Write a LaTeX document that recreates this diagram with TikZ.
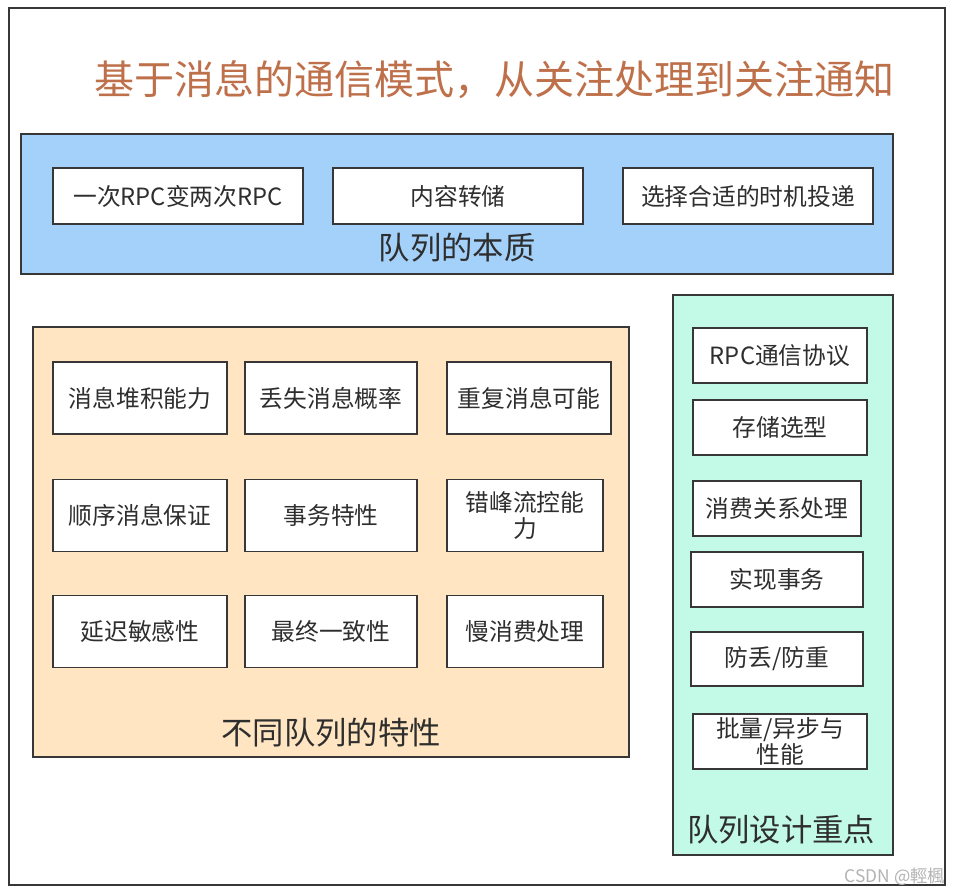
\documentclass[tikz,border=0pt]{standalone}
\usepackage{fontspec}
\setmainfont{Noto Sans CJK SC}
\usetikzlibrary{positioning}
\definecolor{titlebrown}{RGB}{190,112,74}
\definecolor{essenceblue}{RGB}{164,209,250}
\definecolor{traitorange}{RGB}{255,229,193}
\definecolor{designgreen}{RGB}{194,250,231}
\definecolor{linegray}{RGB}{55,55,55}
\tikzset{
x=0.75pt, y=-0.75pt, % one unit is one pixel of the sketch, y grows downwards
every node/.style={text=black!82, font=\fontsize{17.8}{19}\selectfont}, % text of the small boxes
box/.style={draw=linegray, line width=1.1pt, inner sep=2pt, align=center}, % every framed rectangle
item/.style={box, fill=white}, % the white boxes
group/.style={box, inner sep=0pt}, % the coloured areas
grouplabel/.style={font=\fontsize{23.5}{26}\selectfont}, % name of each coloured area
}

\begin{document}
\begin{tikzpicture}
        \useasboundingbox (0,0) rectangle (953,895);
        \node[group, minimum width=702pt, minimum height=657.75pt] (frame) at (477,446.5) {};
        \node[text=titlebrown, font=\fontsize{30}{32}\selectfont] (title) at (494,80) {基于消息的通信模式，从关注处理到关注通知};

        % the nature of a queue
        \node[group, fill=essenceblue, minimum width=654pt, minimum height=105pt] (essence) at (457,204) {};
        \node[item, minimum width=187.5pt, minimum height=42pt] (e1) at (178,196) {一次RPC变两次RPC};
        \node[item, minimum width=187.5pt, minimum height=42pt] (e2) at (458,196) {内容转储};
        \node[item, minimum width=187.5pt, minimum height=42pt] (e3) at (748,196) {选择合适的时机投递};
        \node[grouplabel] (essencename) at (457,248) {队列的本质};

        % traits of different queues
        \node[group, fill=traitorange, minimum width=447pt, minimum height=322.5pt] (traits) at (331,542) {};
        \node[item, minimum width=130.5pt, minimum height=54pt] (t1) at (140,398) {消息堆积能力};
        \node[item, minimum width=129pt, minimum height=54pt] (t2) at (331,398) {丢失消息概率};
        \node[item, minimum width=123pt, minimum height=54pt] (t3) at (529,398) {重复消息可能};
        \node[item, minimum width=130.5pt, minimum height=54pt] (t4) at (140,515.5) {顺序消息保证};
        \node[item, minimum width=129pt, minimum height=54pt] (t5) at (331,515.5) {事务特性};
        \node[item, minimum width=117pt, minimum height=54pt] (t6) at (525,515.5) {错峰流控能\\力};
        \node[item, minimum width=130.5pt, minimum height=54pt] (t7) at (140,631.5) {延迟敏感性};
        \node[item, minimum width=129pt, minimum height=54pt] (t8) at (331,631.5) {最终一致性};
        \node[item, minimum width=117pt, minimum height=54pt] (t9) at (525,631.5) {慢消费处理};
        \node[grouplabel] (traitsname) at (331,733) {不同队列的特性};

        % what to care about when building one
        \node[group, fill=designgreen, minimum width=165pt, minimum height=420pt] (design) at (783,575) {};
        \node[item, minimum width=130.5pt, minimum height=41.25pt] (d1) at (780,355.5) {RPC通信协议};
        \node[item, minimum width=130.5pt, minimum height=41.25pt] (d2) at (780,427.5) {存储选型};
        \node[item, minimum width=126pt, minimum height=41.25pt] (d3) at (777,508.5) {消费关系处理};
        \node[item, minimum width=129pt, minimum height=41.25pt] (d4) at (777,579.5) {实现事务};
        \node[item, minimum width=129pt, minimum height=40.5pt] (d5) at (777,659) {防丢/防重};
        \node[item, minimum width=130.5pt, minimum height=41.25pt] (d6) at (780,741.5) {批量/异步与\\性能};
        \node[grouplabel] (designname) at (781,830) {队列设计重点};

        \node[text=black!30, font=\fontsize{13}{15}\selectfont] (mark) at (895,877) {CSDN @輕楓};
\end{tikzpicture}
\end{document}
